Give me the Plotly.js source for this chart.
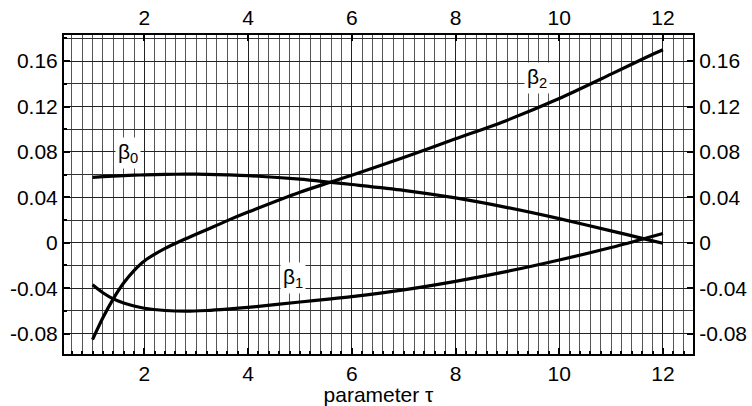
<!DOCTYPE html>
<html>
<head>
<meta charset="utf-8">
<script src="https://cdn.plot.ly/plotly-3.0.1.min.js"></script>
<style>html,body{margin:0;padding:0;background:#fff}</style>
</head>
<body>
<div id="chart" style="width:752px;height:406px"></div>
<script>
// data
const tau = [1, 1.2, 1.4, 1.6, 1.8, 2, 2.4, 2.8, 3.2, 3.6, 4, 5, 5.6, 6, 7, 8, 9, 10, 11, 11.7, 12];
const beta0 = [0.0576, 0.0582, 0.0587, 0.0591, 0.0595, 0.0598, 0.0602, 0.0604, 0.0603, 0.0598, 0.0591, 0.0560, 0.0532, 0.0513, 0.0462, 0.0395, 0.0310, 0.0212, 0.0105, 0.0028, -0.0005];
const beta1 = [-0.0370, -0.0440, -0.0494, -0.0530, -0.0557, -0.0577, -0.0597, -0.0603, -0.0597, -0.0585, -0.0570, -0.0522, -0.0495, -0.0475, -0.0415, -0.0340, -0.0252, -0.0152, -0.0042, 0.0044, 0.0082];
const beta2 = [-0.0853, -0.0660, -0.0494, -0.0355, -0.0245, -0.0160, -0.0050, 0.0035, 0.0115, 0.0195, 0.0270, 0.0445, 0.0535, 0.0595, 0.0750, 0.0915, 0.1080, 0.1270, 0.1485, 0.1638, 0.1700];
const yTicks = [-0.08, -0.04, 0, 0.04, 0.08, 0.12, 0.16];
const yTickText = ['-0.08', '-0.04', '0', '0.04', '0.08', '0.12', '0.16'];
const xTicks = [2, 4, 6, 8, 10, 12];
const labels = [
  {text: 'β<sub>0</sub>', x: 1.68, y: 0.079},
  {text: 'β<sub>1</sub>', x: 4.86, y: -0.031},
  {text: 'β<sub>2</sub>', x: 9.58, y: 0.145}
];

const font = {family: 'Liberation Sans, Arial, sans-serif', size: 21, color: '#000'};
const lineStyle = {color: '#000', width: 3.2, shape: 'spline', smoothing: 0.8};

const traces = [beta0, beta1, beta2].map(v => ({
  x: tau, y: v, type: 'scatter', mode: 'lines', line: lineStyle, hoverinfo: 'skip'
}));
traces.push({x: [], y: [], xaxis: 'x2', yaxis: 'y2', type: 'scatter', showlegend: false});

const xRange = [0.45, 12.58];
const yRange = [-0.098, 0.183];

const xCommon = {
  range: xRange, tickvals: xTicks, ticktext: xTicks.map(String),
  ticks: 'inside', ticklen: 6, tickwidth: 2, tickcolor: '#000',
  showline: true, linecolor: '#000', linewidth: 2,
  tickfont: font, zeroline: false
};
const yCommon = {
  range: yRange, tickvals: yTicks, ticktext: yTickText,
  ticks: 'inside', ticklen: 6, tickwidth: 2, tickcolor: '#000',
  showline: true, linecolor: '#000', linewidth: 2,
  tickfont: font, zeroline: false
};

const layout = {
  width: 752, height: 406,
  margin: {l: 64, r: 59, t: 35, b: 52},
  paper_bgcolor: '#fff', plot_bgcolor: '#fff',
  showlegend: false,
  font: font,
  xaxis: Object.assign({}, xCommon, {
    side: 'bottom', mirror: true,
    showgrid: true, gridcolor: '#222', gridwidth: 1,
    minor: {dtick: 0.2, tick0: 0.2, showgrid: true, gridcolor: '#555', gridwidth: 1, ticks: 'inside', ticklen: 3, tickcolor: '#000'},
    title: {text: 'parameter τ', font: font, standoff: 1}
  }),
  yaxis: Object.assign({}, yCommon, {
    side: 'left', mirror: true,
    showgrid: true, gridcolor: '#222', gridwidth: 1,
    minor: {dtick: 0.02, tick0: 0, showgrid: true, gridcolor: '#333', gridwidth: 1, ticks: 'inside', ticklen: 3, tickcolor: '#000'}
  }),
  xaxis2: Object.assign({}, xCommon, {overlaying: 'x', side: 'top', showgrid: false, anchor: 'y'}),
  yaxis2: Object.assign({}, yCommon, {overlaying: 'y', side: 'right', showgrid: false, anchor: 'x'}),
  annotations: labels.map(l => ({
    x: l.x, y: l.y, xref: 'x', yref: 'y', text: l.text, showarrow: false,
    font: font, bgcolor: '#fff', borderpad: 2
  }))
};

Plotly.newPlot('chart', traces, layout, {staticPlot: true});
</script>
</body>
</html>
